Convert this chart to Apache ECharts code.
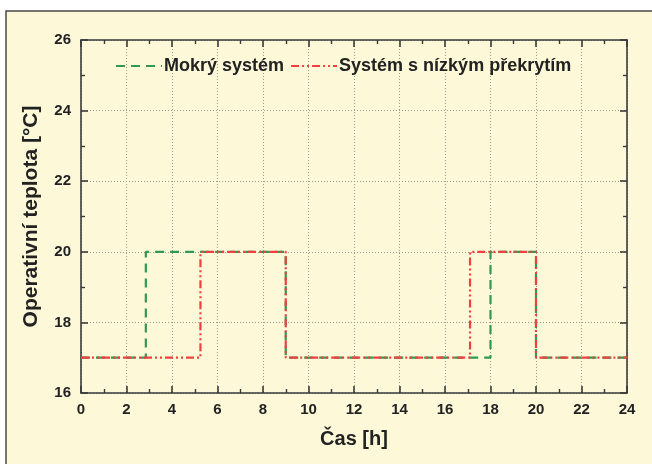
<!DOCTYPE html>
<html>
<head>
<meta charset="utf-8">
<script src="https://cdn.jsdelivr.net/npm/echarts@6/dist/echarts.min.js"></script>
<style>
  html, body { margin: 0; padding: 0; background: #ffffff; }
  #chart { width: 652px; height: 464px; }
</style>
</head>
<body>
<div id="chart"></div>
<script>
// Temperature change points [hour, °C]; each level holds until the next point
const mokryHours = [0, 2.85, 9.0, 18.0, 20.0, 24];
const mokryTemps = [17, 20, 17, 20, 17, 17];
const nizkyHours = [0, 5.25, 9.0, 17.1, 20.0, 24];
const nizkyTemps = [17, 20, 17, 20, 17, 17];

const seriesNames = ['Mokrý systém', 'Systém s nízkým překrytím'];
const xTitle = 'Čas [h]';
const yTitle = 'Operativní teplota [°C]';

const FONT = '"Liberation Sans Narrow", "Liberation Sans", sans-serif';
const GREEN = '#2f9a52';
const RED = '#ef4040';
const AXIS = '#3a3a3a';

const pairs = (xs, ys) => xs.map((x, i) => [x, ys[i]]);

const chart = echarts.init(document.getElementById('chart'), null, { renderer: 'canvas' });

const gridLine = { show: true, lineStyle: { color: '#9a9a90', type: [1, 2], width: 1 } };

const baseAxis = {
  type: 'value',
  axisLine: { show: true, onZero: false, lineStyle: { color: AXIS, width: 1.6 } },
  axisTick: { show: true, inside: true, length: 7, lineStyle: { color: AXIS, width: 1.6 } },
  minorTick: { show: true, splitNumber: 2, length: 4, lineStyle: { color: AXIS, width: 1.4 } },
};

chart.setOption({
  backgroundColor: '#ffffff',
  animation: false,
  graphic: [{
    type: 'rect',
    shape: { x: 6, y: 11, width: 660, height: 470 },
    style: { fill: '#fdf9d8', stroke: '#4a4a4a', lineWidth: 1.5 },
    z: -10, silent: true
  }],
  grid: { left: 81, right: 25, top: 40, bottom: 71 },
  legend: {
    left: 110, top: 52,
    itemWidth: 46, itemHeight: 14, itemGap: 6,
    itemStyle: { opacity: 0 },
    textStyle: { fontFamily: FONT, fontWeight: 'bold', fontSize: 18, color: '#222', padding: [0, 0, 0, -3] },
    data: seriesNames
  },
  xAxis: [
    Object.assign({}, baseAxis, {
      min: 0, max: 24, interval: 2,
      position: 'bottom',
      splitLine: gridLine,
      axisLabel: { fontFamily: FONT, fontWeight: 'bold', fontSize: 15, color: '#222', margin: 9 },
      name: xTitle, nameLocation: 'middle', nameGap: 36,
      nameTextStyle: { fontFamily: FONT, fontWeight: 'bold', fontSize: 20, color: '#222' }
    }),
    Object.assign({}, baseAxis, {
      min: 0, max: 24, interval: 2,
      position: 'top',
      splitLine: { show: false },
      axisLabel: { show: false }
    })
  ],
  yAxis: [
    Object.assign({}, baseAxis, {
      min: 16, max: 26, interval: 2,
      position: 'left',
      splitLine: gridLine,
      axisLabel: { fontFamily: FONT, fontWeight: 'bold', fontSize: 15, color: '#222', margin: 10 },
      name: yTitle, nameLocation: 'middle', nameGap: 39,
      nameTextStyle: { fontFamily: FONT, fontWeight: 'bold', fontSize: 21, color: '#222' }
    }),
    Object.assign({}, baseAxis, {
      min: 16, max: 26, interval: 2,
      position: 'right',
      splitLine: { show: false },
      axisLabel: { show: false }
    })
  ],
  series: [
    {
      name: seriesNames[0], type: 'line', step: 'end', symbol: 'none',
      data: pairs(mokryHours, mokryTemps),
      lineStyle: { color: GREEN, width: 2.2, type: [9, 6] },
      itemStyle: { color: GREEN }, z: 3
    },
    {
      name: seriesNames[1], type: 'line', step: 'end', symbol: 'none',
      data: pairs(nizkyHours, nizkyTemps),
      lineStyle: { color: RED, width: 2.2, type: [8, 3, 2, 3, 2, 3] },
      itemStyle: { color: RED }, z: 4
    }
  ]
});
</script>
</body>
</html>
